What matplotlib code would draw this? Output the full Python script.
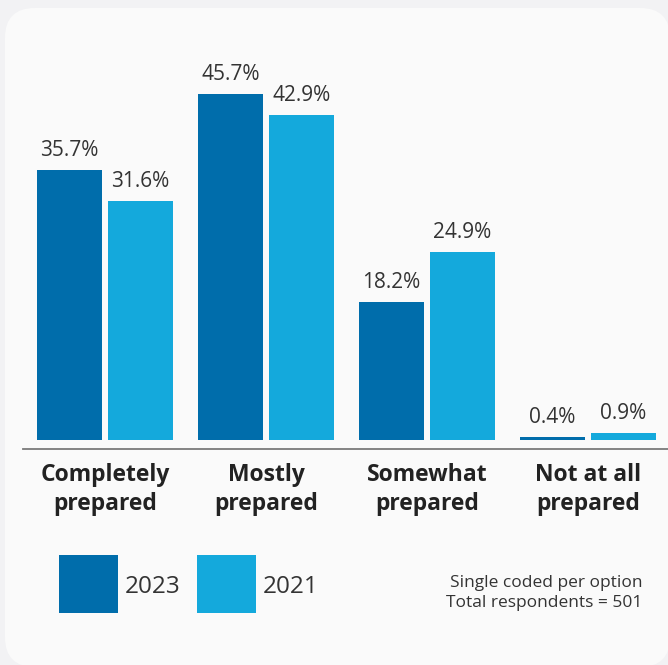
import matplotlib.pyplot as plt
from matplotlib.patches import FancyBboxPatch, Rectangle
from matplotlib.lines import Line2D
import numpy as np

plt.rcParams['font.family'] = ['Open Sans', 'DejaVu Sans']

categories = ['Completely\nprepared', 'Mostly\nprepared', 'Somewhat\nprepared', 'Not at all\nprepared']
values_2023 = [35.7, 45.7, 18.2, 0.4]
values_2021 = [31.6, 42.9, 24.9, 0.9]
series_names = ['2023', '2021']

c2023 = '#006dab'
c2021 = '#14a9dc'
text_col = '#333333'

W, H = 668, 665
fig = plt.figure(figsize=(W / 100, H / 100), dpi=100)
fig.patch.set_facecolor('#f2f2f4')

# rounded card behind everything
card = FancyBboxPatch((5 / W, -2 / H), 665 / W, 659 / H,
                      boxstyle='round,pad=0,rounding_size=0.045',
                      transform=fig.transFigure, facecolor='#fafafa',
                      edgecolor='none', zorder=-5)
fig.patches.append(card)

# axes: baseline at y=440px, 7.57 px per percent
px_per_unit = 7.57
ax_bottom, ax_top = 440, 40
ax = fig.add_axes([0, 1 - ax_bottom / H, 1, (ax_bottom - ax_top) / H])
ax.set_facecolor('none')
ax.set_zorder(2)
spacing = 161
first_center = 105
ax.set_xlim(-first_center / spacing, (W - first_center) / spacing)
ax.set_ylim(0, (ax_bottom - ax_top) / px_per_unit)
ax.axis('off')

x = np.arange(len(categories))
width = 65 / spacing
offset = 35.5 / spacing
b1 = ax.bar(x - offset, values_2023, width, color=c2023)
b2 = ax.bar(x + offset, values_2021, width, color=c2021)

for bars, vals in [(b1, values_2023), (b2, values_2021)]:
    for bar, v in zip(bars, vals):
        ax.annotate(f'{v}%', (bar.get_x() + bar.get_width() / 2, v),
                    xytext=(0, 9), textcoords='offset pixels',
                    ha='center', va='bottom', fontsize=15, color=text_col,
                    annotation_clip=False)

# axis line under the bars
fig.add_artist(Line2D([23 / W, 1], [1 - 449 / H] * 2, color='#7a7a7a', lw=1.3))

for i, cat in enumerate(categories):
    ax.annotate(cat, (i, 0), xytext=(0, -23), textcoords='offset pixels',
                ha='center', va='top', fontsize=16.5, fontweight='bold',
                color='#222222', linespacing=1.3, annotation_clip=False)

# legend
for (x0, name, col) in [(59, series_names[0], c2023), (197, series_names[1], c2021)]:
    fig.patches.append(Rectangle((x0 / W, 1 - 613 / H), 59 / W, 58 / H,
                                 transform=fig.transFigure, facecolor=col,
                                 edgecolor='none'))
    fig.text((x0 + 66) / W, 1 - 587 / H, name, ha='left', va='center',
             fontsize=17.5, color=text_col)

fig.text(642 / W, 1 - 593 / H, 'Single coded per option\nTotal respondents = 501',
         ha='right', va='center', fontsize=12.5, color=text_col,
         multialignment='right', linespacing=1.4)

fig.savefig('out.png', dpi=100, facecolor=fig.get_facecolor())
